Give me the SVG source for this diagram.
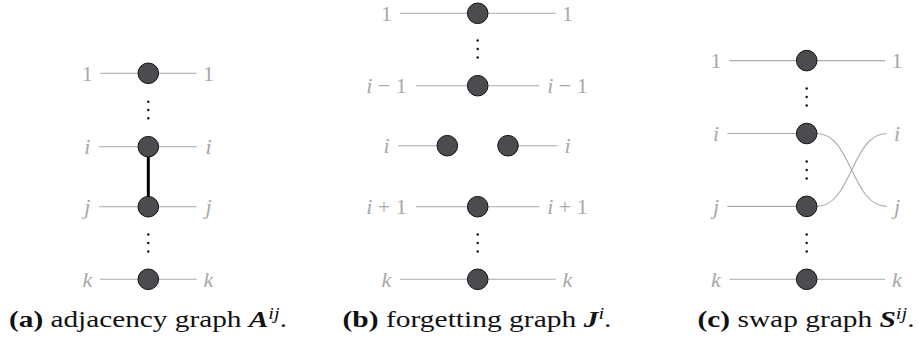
<svg xmlns="http://www.w3.org/2000/svg" width="918" height="351" viewBox="0 0 918 351">
<style>
.wire{stroke:#aaaaaa;stroke-width:1.1;fill:none}
.node{fill:#4b4b50;stroke:#111;stroke-width:1}
.dot{fill:#111}
.lbl{font-family:"Liberation Serif","DejaVu Serif",serif;font-size:22px;fill:#a8a8a8;text-anchor:middle}
.it{font-style:italic}
.cap{font-family:"Liberation Serif","DejaVu Serif",serif;font-size:23px;fill:#111;text-anchor:middle}
.b{font-weight:bold}
</style>
<rect width="918" height="351" fill="#fff"/>
<g id="connectors">
<line class="wire" x1="100" y1="73.3" x2="196.7" y2="73.3"/>
<line class="wire" x1="99" y1="146.7" x2="196.7" y2="146.7"/>
<line class="wire" x1="99" y1="206.7" x2="196.7" y2="206.7"/>
<line class="wire" x1="100" y1="279.3" x2="196.7" y2="279.3"/>
<line x1="148.3" y1="146.7" x2="148.3" y2="206.7" stroke="#000" stroke-width="3"/>
<line class="wire" x1="400" y1="13.3" x2="555.7" y2="13.3"/>
<line class="wire" x1="416" y1="85.7" x2="539.3" y2="85.7"/>
<line class="wire" x1="398" y1="145.7" x2="447.3" y2="145.7"/>
<line class="wire" x1="508" y1="145.7" x2="557.7" y2="145.7"/>
<line class="wire" x1="416" y1="206.7" x2="539.3" y2="206.7"/>
<line class="wire" x1="400" y1="279.3" x2="555.7" y2="279.3"/>
<line class="wire" x1="729.3" y1="60.6" x2="885" y2="60.6"/>
<line class="wire" x1="727.3" y1="133.5" x2="806.7" y2="133.5"/>
<line class="wire" x1="727.3" y1="206.4" x2="806.7" y2="206.4"/>
<line class="wire" x1="729.3" y1="279.3" x2="885" y2="279.3"/>
<path class="wire" d="M816.7,133.5 C851.7,133.5 851.7,206.4 886.7,206.4"/>
<path class="wire" d="M816.7,206.4 C851.7,206.4 851.7,133.5 886.7,133.5"/>
</g>
<g id="panel-a">
<g id="a-n1"><circle class="node" cx="148.3" cy="73.3" r="10.3"/><text class="lbl" x="87.3" y="80.6">1</text><text class="lbl" x="208.5" y="80.6">1</text></g>
<g id="a-ni"><circle class="node" cx="148.3" cy="146.7" r="10.3"/><text class="lbl it" x="87.3" y="154">i</text><text class="lbl it" x="208.5" y="154">i</text></g>
<g id="a-nj"><circle class="node" cx="148.3" cy="206.7" r="10.3"/><text class="lbl it" x="87.3" y="214">j</text><text class="lbl it" x="208.5" y="214">j</text></g>
<g id="a-nk"><circle class="node" cx="148.3" cy="279.3" r="10.3"/><text class="lbl it" x="87.3" y="286.6">k</text><text class="lbl it" x="208.5" y="286.6">k</text></g>
<g id="a-dots"><circle class="dot" cx="148.3" cy="101.7" r="1.2"/><circle class="dot" cx="148.3" cy="110" r="1.2"/><circle class="dot" cx="148.3" cy="118.3" r="1.2"/><circle class="dot" cx="148.3" cy="234.5" r="1.2"/><circle class="dot" cx="148.3" cy="243" r="1.2"/><circle class="dot" cx="148.3" cy="251.5" r="1.2"/></g>
<text class="cap" x="148" y="327" textLength="278" lengthAdjust="spacingAndGlyphs"><tspan class="b">(a)</tspan> adjacency graph <tspan class="b it">A</tspan><tspan class="it" font-size="16" dy="-8">ij</tspan><tspan dy="8">.</tspan></text>
</g>
<g id="panel-b">
<g id="b-n1"><circle class="node" cx="477.7" cy="13.3" r="10.3"/><text class="lbl" x="386.5" y="20.6">1</text><text class="lbl" x="567.5" y="20.6">1</text></g>
<g id="b-nim1"><circle class="node" cx="477.7" cy="85.7" r="10.3"/><text class="lbl" x="386.5" y="93"><tspan class="it">i</tspan> − 1</text><text class="lbl" x="567.5" y="93"><tspan class="it">i</tspan> − 1</text></g>
<g id="b-niL"><circle class="node" cx="447.3" cy="145.7" r="10.3"/><text class="lbl it" x="386.5" y="153">i</text></g>
<g id="b-niR"><circle class="node" cx="508" cy="145.7" r="10.3"/><text class="lbl it" x="567.5" y="153">i</text></g>
<g id="b-nip1"><circle class="node" cx="477.7" cy="206.7" r="10.3"/><text class="lbl" x="386.5" y="214"><tspan class="it">i</tspan> + 1</text><text class="lbl" x="567.5" y="214"><tspan class="it">i</tspan> + 1</text></g>
<g id="b-nk"><circle class="node" cx="477.7" cy="279.3" r="10.3"/><text class="lbl it" x="386.5" y="286.6">k</text><text class="lbl it" x="567.5" y="286.6">k</text></g>
<g id="b-dots"><circle class="dot" cx="477.7" cy="40.5" r="1.2"/><circle class="dot" cx="477.7" cy="49" r="1.2"/><circle class="dot" cx="477.7" cy="57.5" r="1.2"/><circle class="dot" cx="477.7" cy="234.5" r="1.2"/><circle class="dot" cx="477.7" cy="243" r="1.2"/><circle class="dot" cx="477.7" cy="251.5" r="1.2"/></g>
<text class="cap" x="477" y="327" textLength="269" lengthAdjust="spacingAndGlyphs"><tspan class="b">(b)</tspan> forgetting graph <tspan class="b it">J</tspan><tspan class="it" font-size="16" dy="-8">i</tspan><tspan dy="8">.</tspan></text>
</g>
<g id="panel-c">
<g id="c-n1"><circle class="node" cx="806.7" cy="60.6" r="10.3"/><text class="lbl" x="716" y="67.9">1</text><text class="lbl" x="897" y="67.9">1</text></g>
<g id="c-ni"><circle class="node" cx="806.7" cy="133.5" r="10.3"/><text class="lbl it" x="716" y="140.8">i</text><text class="lbl it" x="897" y="140.8">i</text></g>
<g id="c-nj"><circle class="node" cx="806.7" cy="206.4" r="10.3"/><text class="lbl it" x="716" y="213.7">j</text><text class="lbl it" x="897" y="213.7">j</text></g>
<g id="c-nk"><circle class="node" cx="806.7" cy="279.3" r="10.3"/><text class="lbl it" x="716" y="286.6">k</text><text class="lbl it" x="897" y="286.6">k</text></g>
<g id="c-dots"><circle class="dot" cx="806.7" cy="88.5" r="1.2"/><circle class="dot" cx="806.7" cy="97" r="1.2"/><circle class="dot" cx="806.7" cy="105.5" r="1.2"/><circle class="dot" cx="806.7" cy="161.5" r="1.2"/><circle class="dot" cx="806.7" cy="170" r="1.2"/><circle class="dot" cx="806.7" cy="178.5" r="1.2"/><circle class="dot" cx="806.7" cy="234.5" r="1.2"/><circle class="dot" cx="806.7" cy="243" r="1.2"/><circle class="dot" cx="806.7" cy="251.5" r="1.2"/></g>
<text class="cap" x="806" y="327" textLength="217" lengthAdjust="spacingAndGlyphs"><tspan class="b">(c)</tspan> swap graph <tspan class="b it">S</tspan><tspan class="it" font-size="16" dy="-8">ij</tspan><tspan dy="8">.</tspan></text>
</g>
</svg>
